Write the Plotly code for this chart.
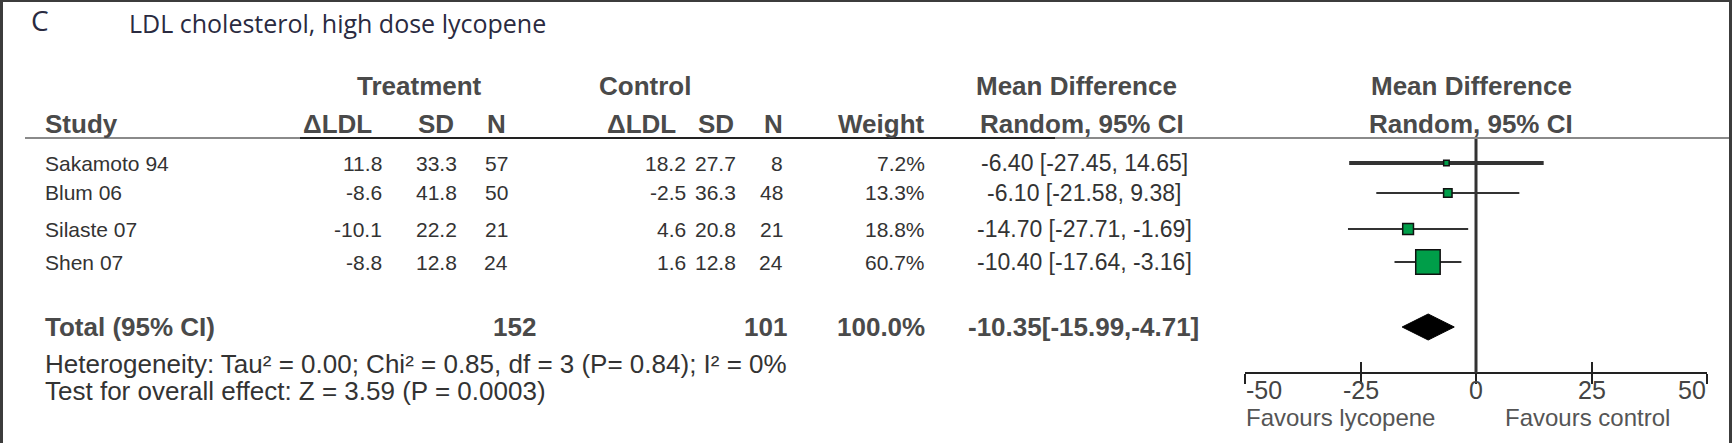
import plotly.graph_objects as go

# ---------------- data ----------------
studies = ["Sakamoto 94", "Blum 06", "Silaste 07", "Shen 07"]
t_mean = [11.8, -8.6, -10.1, -8.8]
t_sd = [33.3, 41.8, 22.2, 12.8]
t_n = [57, 50, 21, 24]
c_mean = [18.2, -2.5, 4.6, 1.6]
c_sd = [27.7, 36.3, 20.8, 12.8]
c_n = [8, 48, 21, 24]
weights = [7.2, 13.3, 18.8, 60.7]
md = [-6.40, -6.10, -14.70, -10.40]
ci_lo = [-27.45, -21.58, -27.71, -17.64]
ci_hi = [14.65, 9.38, -1.69, -3.16]
total_label = "Total (95% CI)"
total_t_n = 152
total_c_n = 101
total_weight = 100.0
total_md = -10.35
total_lo = -15.99
total_hi = -4.71
axis_ticks = [-50, -25, 0, 25, 50]
heterogeneity = "Heterogeneity: Tau² = 0.00; Chi² = 0.85, df = 3 (P= 0.84); I² = 0%"
overall = "Test for overall effect: Z = 3.59 (P = 0.0003)"
favours_left = "Favours lycopene"
favours_right = "Favours control"
panel = "C"
title = "LDL cholesterol, high dose lycopene"

# ---------------- layout constants (pixels) ----------------
W, H = 1732, 443
row_y = [163, 193, 229, 262]
total_y = 327
het_y = 364
test_y = 391
hdr1_y = 86
hdr2_y = 124
line_y = 138
axis_y = 373
tick_lab_y = 390
fav_y = 417
x_m50, x_p50 = 1245, 1707

BODY = "Liberation Sans"
TXT = "#333333"
HDR = "#4a4a4a"
FS_NAME = 21
FS_NUM = 21
FS_MD = 23
FS_HDR = 26
FS_FOOT = 26
FS_TICK = 25


def px(x):
    return x / W


def py(y):
    return 1 - y / H


ann = []


def text(x, y, s, anchor="left", bold=False, size=FS_NUM, color=TXT, font=BODY, xref="paper"):
    ann.append(dict(
        x=(px(x) if xref == "paper" else x), y=py(y), xref=xref, yref="paper", text=s,
        showarrow=False, xanchor=anchor, yanchor="middle", borderpad=0,
        font=dict(family=font, size=size, color=color, weight=("bold" if bold else "normal")),
    ))


# titles
text(30, 20, panel, size=28, color="#2a2a40", font="Open Sans")
text(128, 23, title, size=25, color="#2a2a40", font="Open Sans")

# headers
text(419, hdr1_y, "Treatment", "center", True, FS_HDR, HDR)
text(645, hdr1_y, "Control", "center", True, FS_HDR, HDR)
text(1076, hdr1_y, "Mean Difference", "center", True, FS_HDR, HDR)
text(1471, hdr1_y, "Mean Difference", "center", True, FS_HDR, HDR)
text(44, hdr2_y, "Study", "left", True, FS_HDR, HDR)
text(337, hdr2_y, "ΔLDL", "center", True, FS_HDR, HDR)
text(436, hdr2_y, "SD", "center", True, FS_HDR, HDR)
text(497, hdr2_y, "N", "center", True, FS_HDR, HDR)
text(641, hdr2_y, "ΔLDL", "center", True, FS_HDR, HDR)
text(716, hdr2_y, "SD", "center", True, FS_HDR, HDR)
text(773, hdr2_y, "N", "center", True, FS_HDR, HDR)
text(926, hdr2_y, "Weight", "right", True, FS_HDR, HDR)
text(1082, hdr2_y, "Random, 95% CI", "center", True, FS_HDR, HDR)
text(1471, hdr2_y, "Random, 95% CI", "center", True, FS_HDR, HDR)

# study rows
for i, s in enumerate(studies):
    y = row_y[i]
    text(44, y, s, size=FS_NAME)
    text(383, y, f"{t_mean[i]:.1f}", "right")
    text(458, y, f"{t_sd[i]:.1f}", "right")
    text(509, y, f"{t_n[i]}", "right")
    text(687, y, f"{c_mean[i]:.1f}", "right")
    text(737, y, f"{c_sd[i]:.1f}", "right")
    text(784, y, f"{c_n[i]}", "right")
    text(926, y, f"{weights[i]:.1f}%", "right")
    text(1084, y, f"{md[i]:.2f} [{ci_lo[i]:.2f}, {ci_hi[i]:.2f}]", "center", size=FS_MD)

# total row
text(44, total_y, total_label, "left", True, FS_HDR, HDR)
text(537, total_y, f"{total_t_n}", "right", True, FS_HDR, HDR)
text(788, total_y, f"{total_c_n}", "right", True, FS_HDR, HDR)
text(926, total_y, f"{total_weight:.1f}%", "right", True, FS_HDR, HDR)
text(1083, total_y, f"{total_md:.2f}[{total_lo:.2f},{total_hi:.2f}]", "center", True, FS_HDR, HDR)

text(44, het_y, heterogeneity, size=FS_FOOT)
text(44, test_y, overall, size=FS_FOOT)

# favours labels
text(1340, fav_y, favours_left, "center", size=24, color="#555555")
text(1587, fav_y, favours_right, "center", size=24, color="#555555")

# tick labels placed on the data axis (end labels kept inside the axis span)
for t in axis_ticks:
    anchor = "left" if t == axis_ticks[0] else ("right" if t == axis_ticks[-1] else "center")
    text(t, tick_lab_y, str(t), anchor, size=FS_TICK, color="#444444", xref="x")

fig = go.Figure()

# CI lines
ci_widths = [4, 2, 2, 2]
for i in range(len(studies)):
    fig.add_trace(go.Scatter(
        x=[ci_lo[i], ci_hi[i]], y=[row_y[i], row_y[i]], mode="lines",
        line=dict(color="#333333", width=ci_widths[i]), showlegend=False, hoverinfo="skip",
    ))

# squares sized by weight
fig.add_trace(go.Scatter(
    x=md, y=row_y, mode="markers",
    marker=dict(symbol="square", size=[1.38 * w ** 0.7 for w in weights],
                color="#009e49", opacity=1, line=dict(color="#111111", width=1.5)),
    showlegend=False, hoverinfo="skip",
))

# diamond
half_h = 13
fig.add_trace(go.Scatter(
    x=[total_lo, total_md, total_hi, total_md, total_lo],
    y=[total_y, total_y - half_h, total_y, total_y + half_h, total_y],
    mode="lines", fill="toself", fillcolor="#000000", line=dict(color="#000000", width=1),
    showlegend=False, hoverinfo="skip",
))

shapes = []
# zero line
shapes.append(dict(type="line", xref="x", yref="y", x0=0, x1=0, y0=line_y + 1, y1=axis_y,
                   line=dict(color="#333333", width=3)))
# header rule
shapes.append(dict(type="line", xref="paper", yref="y", x0=px(25), x1=1, y0=line_y, y1=line_y,
                   line=dict(color="#8a8a8a", width=2)))
shapes.append(dict(type="line", xref="paper", yref="y", x0=px(300), x1=px(1055), y0=line_y, y1=line_y,
                   line=dict(color="#222222", width=2)))
# frame
shapes.append(dict(type="rect", xref="paper", yref="paper", x0=0, x1=px(3), y0=0, y1=1,
                   fillcolor="#3c3c3c", line=dict(width=0)))
shapes.append(dict(type="rect", xref="paper", yref="paper", x0=0, x1=1, y0=py(2), y1=1,
                   fillcolor="#3c3c3c", line=dict(width=0)))
shapes.append(dict(type="rect", xref="paper", yref="paper", x0=px(W - 3), x1=1, y0=0, y1=1,
                   fillcolor="#3c3c3c", line=dict(width=0)))

dom = [px(x_m50), px(x_p50)]
axpos = 1 - axis_y / H
fig.update_layout(
    width=W, height=H, margin=dict(l=0, r=0, t=0, b=0),
    paper_bgcolor="white", plot_bgcolor="rgba(0,0,0,0)",
    xaxis=dict(domain=dom, range=[-50, 50], anchor="free", position=axpos,
               showgrid=False, zeroline=False, showline=True, linecolor="#222222", linewidth=2,
               ticks="inside", ticklen=10, tickwidth=2, tickcolor="#222222",
               tickvals=axis_ticks, showticklabels=False),
    xaxis2=dict(domain=dom, range=[-50, 50], anchor="free", position=axpos, overlaying="x",
                showgrid=False, zeroline=False, showline=False,
                ticks="outside", ticklen=10, tickwidth=2, tickcolor="#222222",
                tickvals=axis_ticks, showticklabels=False),
    yaxis=dict(domain=[0, 1], range=[H, 0], visible=False, showgrid=False, zeroline=False),
    annotations=ann, shapes=shapes,
)
# invisible anchor trace so that xaxis2 is drawn
fig.add_trace(go.Scatter(x=[0], y=[axis_y], xaxis="x2", mode="markers",
                         marker=dict(opacity=0), showlegend=False, hoverinfo="skip"))

fig.write_html("out.html", config={"displayModeBar": False})
